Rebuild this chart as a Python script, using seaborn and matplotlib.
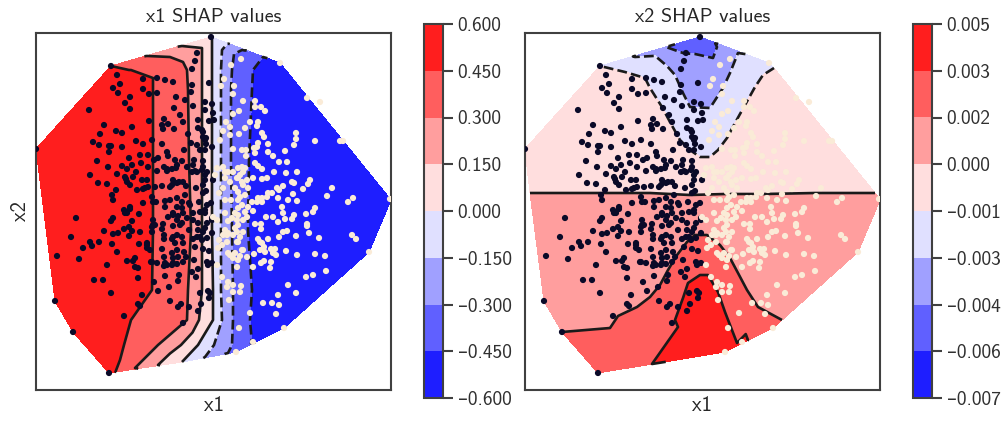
import numpy as np
import pandas as pd
import seaborn as sns
import matplotlib.pyplot as plt

# points (x1 and x2 in axis units, 0-355 and 0-357)
dark_x1 = [175,75,81,107,121,129,137,84,77,107,82,94,113,121,89,94,53,140,149,138,156,155,157,161,159,156,173,169,176,169,177,144,128,113,68,96,126,132,147,127,138,80,86,64,162,162,173,178,166,152,170,57,63,73,75,86,100,107,116,126,155,161,170,176,73,131,132,148,104,112,122,118,93,61,72,86,96,105,112,139,146,158,167,157,131,128,121,140,151,159,166,171,54,81,91,100,62,71,90,97,94,106,111,80,101,107,112,119,126,134,137,143,150,160,167,177,76,77,107,116,117,129,134,141,149,153,170,
           120,129,146,163,175,94,88,91,103,40,77,75,96,117,127,132,137,142,151,157,164,169,116,126,137,144,153,162,169,176,68,77,82,88,93,96,104,93,35,54,56,63,47,76,103,111,111,128,128,137,146,147,157,164,171,176,81,21,43,126,136,141,148,159,167,173,128,137,142,150,158,115,121,128,136,141,147,171,176,91,97,99,71,99,102,156,162,172,129,143,58,67,102,118,142,160,122,133,164,172,174,75,106,173,19,134,102,104,142,145,153,162,165,88,147,37,73,0,
           131,136,141,156,161,167,169,167,169,89,91,109,141,136,147,167,167,169,164,169,137,141,146,147,141,136,139,161,166,167,162,157,171,176,146,141,154,171,129,131,137,169,116,117,119,89,94,111,114,116]
dark_x2 = [353,324,315,311,312,310,308,306,302,301,297,293,296,297,287,281,280,293,290,282,305,298,284,337,329,321,307,288,286,280,277,275,271,269,265,263,265,266,268,261,261,259,257,256,270,262,269,270,260,256,252,248,245,244,244,243,249,246,250,246,247,245,246,243,238,238,234,240,235,235,232,230,232,229,223,224,225,227,223,230,229,230,229,225,219,223,219,222,223,219,220,218,215,216,221,218,207,206,211,213,205,210,210,200,200,201,203,203,204,203,210,208,204,202,197,210,195,190,187,193,188,189,190,192,195,187,199,
           188,183,188,188,187,183,180,177,176,172,172,169,169,165,166,173,177,174,172,177,178,180,158,161,164,165,160,160,162,170,159,156,157,161,163,159,158,154,153,148,144,148,142,146,146,147,142,155,151,153,153,147,151,153,152,157,138,134,131,141,137,140,138,143,141,139,133,132,133,133,130,128,127,124,125,126,128,128,127,129,129,132,125,123,122,118,121,125,114,115,110,110,112,108,109,113,99,103,97,99,97,97,95,92,89,89,86,84,83,86,83,79,86,74,67,58,17,241,
           221,221,225,218,218,223,210,205,215,213,208,202,207,205,208,258,253,250,240,240,175,170,167,177,155,151,147,153,150,158,167,170,167,172,182,183,185,185,127,125,127,177,163,170,165,177,181,145,140,128]
light_x1 = [205,244,195,188,198,185,197,271,284,207,219,219,225,229,203,197,214,222,221,190,194,209,187,203,226,228,260,260,279,258,222,232,304,307,194,184,218,221,206,210,197,249,219,232,237,210,243,251,219,222,226,206,209,187,192,181,179,238,250,261,204,189,201,217,226,231,256,258,274,272,296,207,199,187,241,247,243,267,291,257,236,231,222,216,209,195,183,242,252,261,312,317,226,202,189,
            279,277,270,258,256,237,230,242,249,246,247,217,219,225,225,271,271,209,201,192,189,202,207,273,283,260,316,320,251,247,243,232,222,226,228,224,218,235,239,240,250,261,279,289,207,201,197,191,183,202,186,192,206,204,197,211,333,228,225,235,234,217,201,181,290,277,270,186,192,191,197,205,197,204,252,260,242,193,227,236,243,240,214,203,248,217,200,354,
            202,197,202,206,194,189,207,211,212,202,204,226,221,232,202,199,206,212,196,211,202,199,192,187,204,201,191,194,199,202,207,182,224,229,237,181,177,189]
light_x2 = [331,327,325,311,304,304,296,292,288,289,289,283,283,279,279,276,268,268,264,268,263,262,259,256,257,253,257,251,249,245,247,246,249,249,255,250,242,243,240,240,241,239,237,238,234,234,228,228,227,224,221,223,222,223,218,222,215,218,217,218,215,212,212,212,211,212,208,207,210,206,202,205,202,202,202,204,200,201,194,196,197,193,192,188,195,190,197,192,190,189,188,192,188,190,190,
            182,178,176,175,171,173,173,168,171,183,177,179,166,166,161,166,164,178,170,169,177,175,170,157,152,154,155,151,159,158,153,151,151,147,143,140,136,141,141,135,139,135,136,134,158,158,155,155,150,148,145,137,140,134,132,133,138,129,127,128,122,123,123,125,119,115,113,113,108,103,105,104,98,98,105,97,95,90,87,87,85,76,77,62,62,48,38,191,
            222,218,212,208,208,218,218,210,202,198,193,192,188,197,182,177,185,183,172,173,165,162,157,155,153,148,148,135,137,130,140,142,148,138,137,170,173,160]

# x1 SHAP field: hull corners, then nodes along each band edge, values
phi1_x = [0,75,175,244,355,333,248,217,200,73,37,19,
          95,117,112,134,147,151,146,166,176,191,186,206,198,227,219,
          93,151,166,176,185,196,217,
          117,152,166,176,185,195,216,
          117,153,166,176,185,195,213,
          117,155,166,176,185,196,212,
          116,152,166,177,185,197,216,
          95,151,163,177,186,197,214,
          88,122,145,162,178,196,
          84,99,122,146,169,192,
          85,60,85,85,50,85,50,60,65,
          245,245,300,245,300,245,300]
phi1_y = [241,324,353,327,190,138,62,48,38,17,58,89,
          320,312,334,333,328,320,344,342,352,346,340,340,336,333,333,
          320,320,320,320,320,320,320,
          300,300,300,300,300,300,300,
          230,230,230,230,230,230,230,
          160,160,160,160,160,160,160,
          100,100,100,100,100,100,100,
          70,70,70,70,70,70,70,
          45,45,45,45,45,45,
          30,22,25,28,33,37,
          300,230,230,160,160,100,100,70,40,
          300,230,230,160,170,100,140]
phi1_v = [.58,.45,0,-.55,-.55,-.55,-.55,-.46,-.38,.5,.58,.58,
          .45,.45,.3,.3,.3,.3,.15,.15,0,-.15,-.15,-.3,-.3,-.45,-.45,
          .45,.3,.15,0,-.15,-.3,-.45,
          .45,.3,.15,0,-.15,-.3,-.45,
          .45,.3,.15,0,-.15,-.3,-.45,
          .45,.3,.15,0,-.15,-.3,-.45,
          .45,.3,.15,0,-.15,-.3,-.45,
          .45,.3,.15,0,-.15,-.3,-.45,
          .45,.3,.15,0,-.15,-.3,
          .45,.3,.15,0,-.15,-.3,
          .58,.58,.58,.58,.58,.58,.58,.58,.55,
          -.55,-.55,-.55,-.55,-.55,-.55,-.55]

# x2 SHAP field, same idea
phi2_x = [0,75,175,244,355,333,248,217,200,73,37,19,
          141,170,188,192,110,142,150,158,165,172,178,185,192,198,205,213,
          100,120,125,137,145,155,165,175,185,193,202,210,220,230,238,249,
          5,40,85,125,165,200,240,290,350,
          85,93,112,125,135,143,152,162,170,182,195,205,213,222,233,245,257,
          127,153,150,158,163,175,183,193,200,212,223,
          170,150,170,190,130,160,178,200,220,125,
          30,60,100,140,180,240,300,95,115,130,145,160,245,230,215,200,
          50,100,150,185,215,260,300,
          80,110,130,150,170,190,210,225,175,165,180]
phi2_y = [241,324,353,327,190,138,62,48,38,17,58,89,
          343,336,332,343,333,324,315,297,283,273,272,282,285,302,317,337,
          318,312,302,283,268,250,240,233,233,240,252,267,285,303,315,322,
          197,197,197,197,195,196,196,197,197,
          62,74,83,93,105,120,135,148,155,155,145,132,117,100,83,71,70,
          26,63,70,92,107,115,115,98,78,47,50,
          345,330,310,320,320,265,250,270,310,330,
          235,275,265,235,215,250,250,300,290,265,245,225,300,285,255,235,
          120,125,170,175,170,150,160,
          40,50,75,100,130,125,95,65,80,50,100]
phi2_v = [-.0002,-.001,-.005,-.0012,.0012,.0012,.0027,.0042,.0042,.0027,.002,.0012,
          -.004,-.004,-.004,-.004,-.0025,-.0025,-.0025,-.0025,-.0025,-.0025,-.0025,-.0025,-.0025,-.0025,-.0025,-.0025,
          -.001,-.001,-.001,-.001,-.001,-.001,-.001,-.001,-.001,-.001,-.001,-.001,-.001,-.001,-.001,-.001,
          .0005,.0005,.0005,.0005,.0005,.0005,.0005,.0005,.0005,
          .002,.002,.002,.002,.002,.002,.002,.002,.002,.002,.002,.002,.002,.002,.002,.002,.002,
          .0035,.0035,.0035,.0035,.0035,.0035,.0035,.0035,.0035,.0035,.0035,
          -.005,-.0032,-.0032,-.0032,-.0018,-.0018,-.0018,-.0018,-.0018,-.0018,
          -.0002,-.0002,-.0002,-.0002,-.0002,-.0002,-.0002,-.0002,-.0002,-.0002,-.0002,-.0002,-.0002,-.0002,-.0002,-.0002,
          .0012,.0012,.0012,.0012,.0012,.0012,.0012,
          .0027,.0027,.0027,.0027,.0027,.0027,.0027,.0027,.0043,.0043,.0043]

levels1 = [-.6,-.45,-.3,-.15,0,.15,.3,.45,.6]
levels2 = [-.007,-.0055,-.004,-.0025,-.001,.0005,.002,.0035,.005]
tick_labels1 = ["\u20130.600","\u20130.450","\u20130.300","\u20130.150","0.000","0.150","0.300","0.450","0.600"]
tick_labels2 = ["\u20130.007","\u20130.006","\u20130.004","\u20130.003","\u20130.001","0.000","0.002","0.003","0.005"]

sns.set_theme(style="ticks")
plt.rcParams["font.family"] = ["cmss10", "DejaVu Sans"]
plt.rcParams["axes.unicode_minus"] = False
plt.rcParams["axes.edgecolor"] = "#404040"

df = pd.DataFrame({"x1": dark_x1 + light_x1,
                   "x2": dark_x2 + light_x2,
                   "group": ["a"] * len(dark_x1) + ["b"] * len(light_x1)})

fig = plt.figure(figsize=(10.04, 4.25), dpi=100)

def panel(left, cleft, px, py, pv, levels, labels, title):
    ax = fig.add_axes([left / 1004, 35 / 425, 355 / 1004, 357 / 425])
    cf = ax.tricontourf(px, py, pv, levels=levels, cmap="bwr")
    ax.tricontour(px, py, pv, levels=levels, colors="k", linewidths=1.9)
    sns.scatterplot(data=df, x="x1", y="x2", hue="group", palette={"a": "#0a0a28", "b": "#faebd7"},
                    s=20, linewidth=0, legend=False, ax=ax, zorder=3)
    ax.set_xlim(0, 355)
    ax.set_ylim(0, 357)
    ax.set_xticks([])
    ax.set_yticks([])
    ax.set_xlabel("x1", fontsize=15)
    ax.set_ylabel("")
    ax.set_title(title, fontsize=14.5, pad=8)
    for s in ax.spines.values():
        s.set_visible(True)
        s.set_linewidth(1.5)
    cax = fig.add_axes([cleft / 1004, 27 / 425, 19 / 1004, 374 / 425])
    cb = fig.colorbar(cf, cax=cax, ticks=levels)
    cb.set_ticklabels(labels)
    cb.ax.tick_params(labelsize=14, length=7, width=1.5, color="#404040", labelcolor="#303030")
    cb.outline.set_linewidth(1.5)
    cb.outline.set_edgecolor("#404040")
    return ax

ax1 = panel(36, 424, phi1_x, phi1_y, phi1_v, levels1, tick_labels1, "x1 SHAP values")
ax1.set_ylabel("x2", fontsize=15)
panel(525, 913, phi2_x, phi2_y, phi2_v, levels2, tick_labels2, "x2 SHAP values")

fig.savefig("out.png", dpi=100)
